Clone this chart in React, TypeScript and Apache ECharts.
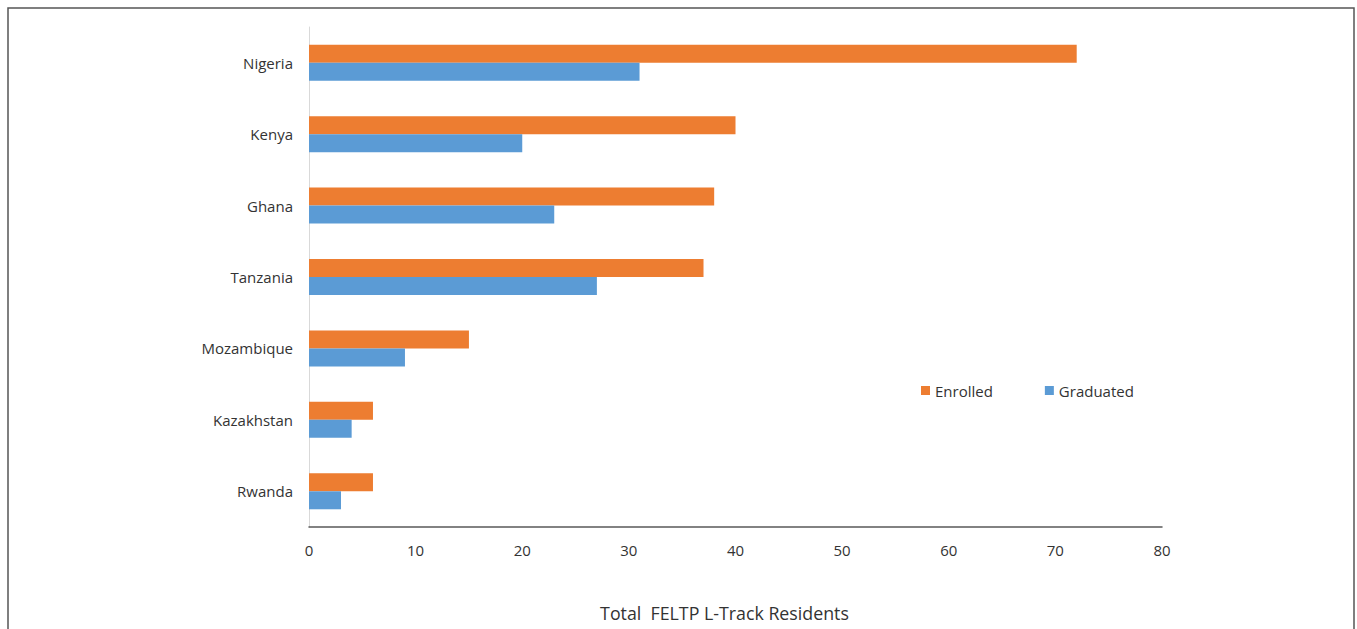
import React, { useEffect, useRef } from "react";
import * as echarts from "echarts";

const countries = ["Nigeria", "Kenya", "Ghana", "Tanzania", "Mozambique", "Kazakhstan", "Rwanda"];
const enrolled = [72, 40, 38, 37, 15, 6, 6];
const graduated = [31, 20, 23, 27, 9, 4, 3];
const xTicks = { min: 0, max: 80, interval: 10 };

const FONT = "'Open Sans', 'Liberation Sans', sans-serif";

export default function App() {
  const ref = useRef<HTMLDivElement>(null);
  useEffect(() => {
    if (!ref.current) return;
    const chart = echarts.init(ref.current, undefined, { renderer: "svg" });
    chart.setOption({
      animation: false,
      backgroundColor: "#ffffff",
      textStyle: { fontFamily: FONT },
      graphic: [
        {
          type: "rect",
          shape: { x: 8, y: 8, width: 1346, height: 640 },
          style: { fill: "none", stroke: "#555555", lineWidth: 1.5 },
          silent: true,
        },
      ],
      grid: { left: 309, right: 195, top: 27, bottom: 102, outerBoundsMode: "none", containLabel: false },
      legend: {
        data: ["Enrolled", "Graduated"],
        left: 916,
        top: 378,
        itemWidth: 9,
        itemHeight: 9,
        itemGap: 52,
        icon: "rect",
        textStyle: { fontFamily: FONT, fontSize: 15, color: "#333333" },
      },
      xAxis: {
        type: "value",
        min: xTicks.min,
        max: xTicks.max,
        interval: xTicks.interval,
        name: "Total  FELTP L-Track Residents",
        nameLocation: "middle",
        nameGap: 77,
        nameTextStyle: { fontFamily: FONT, fontSize: 17.8, color: "#333333", padding: [0, 22, 0, 0] },
        axisLine: { show: true, lineStyle: { color: "#595959", width: 1.5 } },
        axisTick: { show: false },
        splitLine: { show: false },
        axisLabel: { fontFamily: FONT, fontSize: 15, color: "#333333", margin: 15 },
      },
      yAxis: {
        type: "category",
        data: countries,
        inverse: true,
        axisLine: { show: true, lineStyle: { color: "#d9d9d9", width: 1 } },
        axisTick: { show: false },
        axisLabel: { fontFamily: FONT, fontSize: 15, color: "#333333", margin: 16 },
      },
      series: [
        {
          name: "Enrolled",
          type: "bar",
          data: enrolled,
          itemStyle: { color: "#ed7d31" },
          barWidth: 18,
          barGap: "0%",
          barCategoryGap: "50%",
        },
        {
          name: "Graduated",
          type: "bar",
          data: graduated,
          itemStyle: { color: "#5b9bd5" },
          barWidth: 18,
          barGap: "0%",
          barCategoryGap: "50%",
        },
      ],
    });
    return () => chart.dispose();
  }, []);
  return (
    <div
      ref={ref}
      style={{ position: "absolute", left: 0, top: 0, width: 1357, height: 629 }}
    />
  );
}
